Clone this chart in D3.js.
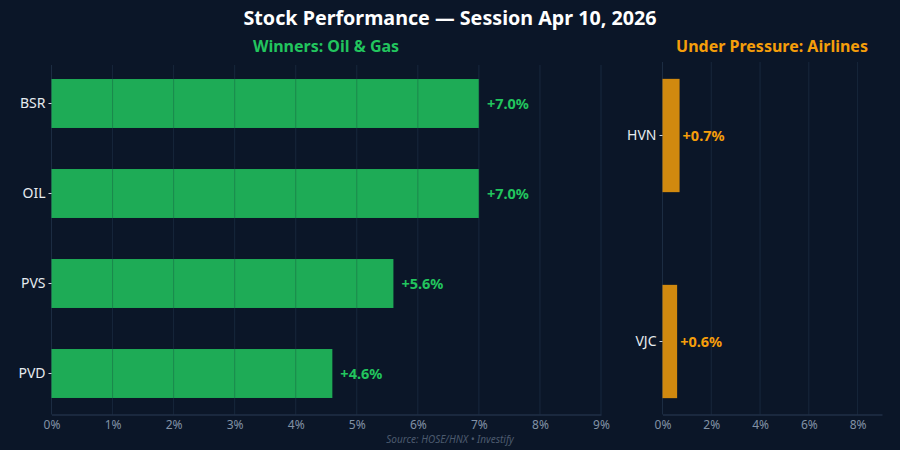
<!DOCTYPE html>
<html><head><meta charset="utf-8">
<script src="https://cdn.jsdelivr.net/npm/d3@7"></script>
<style>html,body{margin:0;padding:0;background:#0b1628;}svg{display:block;font-family:"Noto Sans","Open Sans",sans-serif;}</style>
</head><body><svg id="c" width="900" height="450"></svg>
<script>
const winners = ["BSR","OIL","PVS","PVD"];
const winnerValues = [7.0, 7.0, 5.6, 4.6];
const losers = ["HVN","VJC"];
const loserValues = [0.7, 0.6];
const leftTicks = [0,1,2,3,4,5,6,7,8,9];
const rightTicks = [0,2,4,6,8];

const FONT = '"Noto Sans","Open Sans",sans-serif';
const svg = d3.select("#c");
svg.append("rect").attr("width",900).attr("height",450).attr("fill","#0b1628");

const GREEN = "#22c55e", ORANGE = "#f59e0b", GRID = "#1c2c42", AXIS = "#2a3b55", TICK = "#8292a6";

svg.append("text").attr("x",450).attr("y",25).attr("text-anchor","middle")
  .attr("fill","#ffffff").attr("font-size",19.7).attr("font-weight","bold")
  .text("Stock Performance — Session Apr 10, 2026");

function panel(opts){
  const {cats, vals, x0, x1, domainMax, ticks, yRange, pad, gridTop, axisY, color, title, titleX, labelGap} = opts;
  const x = d3.scaleLinear().domain([0, domainMax]).range([x0, x1]);
  const y = d3.scaleBand().domain(cats).range(yRange).paddingInner(pad).paddingOuter(pad/2);
  const g = svg.append("g");
  g.selectAll(".grid").data(ticks).enter().append("line")
    .attr("x1", d=>x(d)).attr("x2", d=>x(d)).attr("y1", gridTop).attr("y2", axisY)
    .attr("stroke", GRID).attr("stroke-width",1);
  g.selectAll(".bar").data(cats).enter().append("rect")
    .attr("x", x(0)).attr("y", d=>y(d))
    .attr("width", (d,i)=>x(vals[i])-x(0)).attr("height", y.bandwidth())
    .attr("fill", color).attr("fill-opacity",0.85);
  g.selectAll(".grid2").data(ticks.filter(t=>t>0)).enter().append("line")
    .attr("x1", d=>x(d)).attr("x2", d=>x(d)).attr("y1", gridTop).attr("y2", axisY)
    .attr("stroke", "#0b1628").attr("stroke-opacity",0.25).attr("stroke-width",1);
  g.selectAll(".lbl").data(cats).enter().append("text")
    .attr("x", (d,i)=>x(vals[i])+labelGap).attr("y", d=>y(d)+y.bandwidth()/2)
    .attr("dy","0.35em").attr("fill", color).attr("font-size",14.5).attr("font-weight","bold")
    .text((d,i)=>"+"+vals[i].toFixed(1)+"%");
  const xa = g.append("g").attr("transform",`translate(0,${axisY})`)
    .call(d3.axisBottom(x).tickValues(ticks).tickFormat(d=>d+"%").tickSize(0).tickPadding(6));
  xa.attr("font-family",FONT);
  xa.select(".domain").attr("stroke",AXIS);
  xa.selectAll(".tick text").attr("fill",TICK).attr("font-size",12);
  const ya = g.append("g").attr("transform",`translate(${x0},0)`)
    .call(d3.axisLeft(y).tickSize(3).tickPadding(3));
  ya.attr("font-family",FONT);
  ya.select(".domain").remove();
  ya.selectAll(".tick line").attr("stroke","#c8d0da");
  ya.selectAll(".tick text").attr("fill","#e6ebf0").attr("font-size",14);
  svg.append("text").attr("x",titleX).attr("y",52).attr("text-anchor","middle")
    .attr("fill",color).attr("font-size",16).attr("font-weight","bold").text(title);
}

panel({cats:winners, vals:winnerValues, x0:51.5, x1:601, domainMax:9, ticks:leftTicks,
  yRange:[58.5,418.5], pad:0.456, gridTop:65, axisY:414.5, color:GREEN,
  title:"Winners: Oil & Gas", titleX:326, labelGap:8});
panel({cats:losers, vals:loserValues, x0:662.5, x1:882, domainMax:9, ticks:rightTicks,
  yRange:[32.5,444.5], pad:0.45, gridTop:62, axisY:414.5, color:ORANGE,
  title:"Under Pressure: Airlines", titleX:772, labelGap:3});

svg.append("text").attr("x",450).attr("y",443).attr("text-anchor","middle")
  .attr("fill","#4b5a6e").attr("font-size",10).attr("font-style","italic")
  .text("Source: HOSE/HNX  •  Investify");
</script></body></html>
